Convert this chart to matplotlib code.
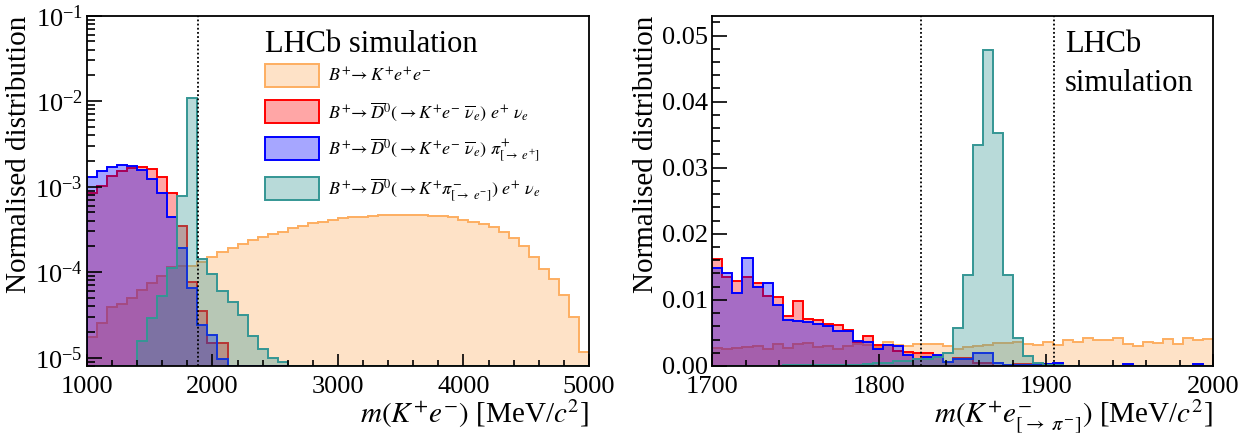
import numpy as np
import matplotlib
matplotlib.use("Agg")
import matplotlib.pyplot as plt
from matplotlib.colors import to_rgba
from matplotlib.patches import Patch
from matplotlib.ticker import MultipleLocator, LogLocator, LogFormatterMathtext, FormatStrFormatter

plt.rcParams['font.family'] = ['Liberation Serif', 'DejaVu Serif']
plt.rcParams['mathtext.fontset'] = 'stix'

# left panel: m(K+ e-) from 1000 to 5000 MeV, 50 bins
edges_l = np.linspace(1000, 5000, 51)
kee_l = [1.76e-5, 2.57e-5, 3.9e-5, 4.25e-5, 4.95e-5, 6.2e-5, 7.4e-5, 9.0e-5, 1.16e-4, 1.19e-4,
         1.19e-4, 1.33e-4, 1.52e-4, 1.74e-4, 1.91e-4, 2.12e-4, 2.38e-4, 2.56e-4, 2.77e-4, 2.98e-4,
         3.26e-4, 3.47e-4, 3.79e-4, 3.9e-4, 4.08e-4, 4.27e-4, 4.38e-4, 4.46e-4, 4.54e-4, 4.63e-4,
         4.71e-4, 4.71e-4, 4.67e-4, 4.63e-4, 4.58e-4, 4.58e-4, 4.38e-4, 4.08e-4, 3.84e-4, 3.66e-4,
         3.4e-4, 2.98e-4, 2.49e-4, 2.02e-4, 1.49e-4, 1.09e-4, 8.3e-5, 5.4e-5, 3.02e-5, 1.17e-5]
denu_l = [8.5e-4, 1.02e-3, 1.33e-3, 1.54e-3, 1.64e-3, 1.71e-3, 1.6e-3, 1.31e-3, 8.5e-4, 3.47e-4,
          7.6e-5, 3.5e-5, 1.5e-5, 1.5e-5] + [0] * 36
dpi_l = [1.31e-3, 1.54e-3, 1.71e-3, 1.79e-3, 1.75e-3, 1.57e-3, 1.22e-3, 8.5e-4, 4.45e-4, 1.9e-4,
         6.5e-5, 2.4e-5, 1.85e-5, 9.6e-6] + [0] * 36
dkpi_l = [0, 0, 0, 0, 0, 1.55e-5, 2.95e-5, 5.2e-5, 1.13e-4, 7.7e-4,
          1.1e-2, 1.42e-4, 9.5e-5, 6.0e-5, 4.5e-5, 3.15e-5, 1.78e-5, 1.27e-5, 9.8e-6, 9.0e-6] + [0] * 30

# right panel: m(K+ e-[->pi-]) from 1700 to 2000 MeV, 50 bins
edges_r = np.linspace(1700, 2000, 51)
kee_r = [0.0027, 0.0026, 0.0027, 0.0029, 0.0030, 0.0026, 0.0033, 0.0027, 0.0034, 0.0035,
         0.0028, 0.0030, 0.0025, 0.0030, 0.0033, 0.0031, 0.0028, 0.0036, 0.0031, 0.0030,
         0.0033, 0.0033, 0.0034, 0.0030, 0.0026, 0.0029, 0.0030, 0.0031, 0.0035, 0.0035,
         0.0036, 0.0034, 0.0031, 0.0037, 0.0032, 0.0039, 0.0036, 0.0042, 0.0040, 0.0040,
         0.0043, 0.0033, 0.0030, 0.0037, 0.0035, 0.0041, 0.0034, 0.0043, 0.0039, 0.0041]
denu_r = [0.0162, 0.0134, 0.0128, 0.0134, 0.0125, 0.0106, 0.0105, 0.0075, 0.0099, 0.0071,
          0.0070, 0.0063, 0.0062, 0.0054, 0.0037, 0.0045, 0.0031, 0.0031, 0.0023, 0.0021,
          0.0019, 0.0019, 0.0015, 0.0006, 0.0012, 0.0012, 0.0004, 0.0004, 0.0, 0.0,
          0.0003, 0.0003] + [0.0] * 18
dpi_r = [0.0148, 0.0141, 0.0111, 0.0163, 0.0120, 0.0125, 0.0093, 0.0070, 0.0068, 0.0067,
         0.0064, 0.0060, 0.0053, 0.0053, 0.0038, 0.0037, 0.0025, 0.0031, 0.0030, 0.0016,
         0.0011, 0.0014, 0.0016, 0.0006, 0.0010, 0.0011, 0.0020, 0.0020, 0.0004, 0.0001,
         0.0001, 0.0001, 0.0003, 0.0003, 0.0005, 0.0, 0.0, 0.0, 0.0, 0.0,
         0.0, 0.0003, 0.0, 0.0, 0.0, 0.0, 0.0, 0.0, 0.0003, 0.0]
dkpi_r = [0.0, 0.0, 0.0, 0.0, 0.0, 0.0, 0.0, 0.0001, 0.0001, 0.0001,
          0.0001, 0.0001, 0.0001, 0.0001, 0.0002, 0.0003, 0.0004, 0.0005, 0.0007, 0.0008,
          0.0010, 0.0011, 0.0013, 0.0019, 0.0057, 0.0137, 0.0335, 0.0478, 0.0352, 0.0137,
          0.0042, 0.0015, 0.0004, 0.0002, 0.0001] + [0.0] * 15

colors = ['#fdae61', '#ff0000', '#0000ff', '#349694']
labels = [r'$B^{+}\!\rightarrow K^{+}e^{+}e^{-}$',
          r'$B^{+}\!\rightarrow \overline{D}^{0}(\rightarrow K^{+}e^{-}\ \overline{\nu}_{e})\ e^{+}\ \nu_{e}$',
          r'$B^{+}\!\rightarrow \overline{D}^{0}(\rightarrow K^{+}e^{-}\ \overline{\nu}_{e})\ \pi^{+}_{[\rightarrow\ e^{+}]}$',
          r'$B^{+}\!\rightarrow \overline{D}^{0}(\rightarrow K^{+}\pi^{-}_{[\rightarrow\ e^{-}]})\ e^{+}\ \nu_{e}$']


def draw(ax, edges, series, floor):
    for vals, c in zip(series, colors):
        v = np.maximum(np.array(vals, dtype=float), floor)
        ax.stairs(v, edges, baseline=floor, fill=True, facecolor=to_rgba(c, 0.35), linewidth=0)
        ax.stairs(v, edges, baseline=floor, color=c, linewidth=1.4)


def style(ax):
    for s in ax.spines.values():
        s.set_linewidth(1.3)
    ax.tick_params(which='both', direction='in', top=False, right=False, width=1.2, labelsize=19)
    ax.tick_params(axis='y', which='major', length=11, pad=3)
    ax.tick_params(axis='y', which='minor', length=6)
    ax.tick_params(axis='x', which='major', length=8.5, pad=7)
    ax.tick_params(axis='x', which='minor', length=4.5)


dots = (0, (1, 1.3))

fig = plt.figure(figsize=(12.55, 4.42), dpi=100)
ax1 = fig.add_axes([0.0693, 0.172, 0.4, 0.7925])
ax2 = fig.add_axes([0.5677, 0.172, 0.3988, 0.7925])

# left
floor = 8e-6
draw(ax1, edges_l, [kee_l, denu_l, dpi_l, dkpi_l], floor)
ax1.set_yscale('log')
ax1.set_xlim(1000, 5000)
ax1.set_ylim(floor, 0.1)
ax1.axvline(1885, color='black', linestyle=dots, linewidth=1.3)
ax1.xaxis.set_major_locator(MultipleLocator(1000))
ax1.xaxis.set_minor_locator(MultipleLocator(200))
ax1.yaxis.set_major_locator(LogLocator(base=10, numticks=10))
ax1.yaxis.set_minor_locator(LogLocator(base=10, subs=np.arange(2, 10), numticks=20))
ax1.yaxis.set_major_formatter(LogFormatterMathtext())
style(ax1)
ax1.set_xlabel(r'$m(K^{+}e^{-})$ [MeV/$c^{2}$]', fontsize=21, loc='right', labelpad=0)
ax1.set_ylabel('Normalised distribution', fontsize=21, loc='top', labelpad=2)
ax1.text(0.355, 0.896, 'LHCb simulation', transform=ax1.transAxes, fontsize=22, va='baseline')
handles = [Patch(facecolor=to_rgba(c, 0.35), edgecolor=c, linewidth=1.4) for c in colors]
ax1.legend(handles, labels, loc='upper left', bbox_to_anchor=(0.355, 0.862), frameon=False,
           fontsize=13, handlelength=3.0, handleheight=1.55, labelspacing=0.75,
           handletextpad=0.5, borderpad=0, borderaxespad=0)

# right
draw(ax2, edges_r, [kee_r, denu_r, dpi_r, dkpi_r], 0.0)
ax2.set_xlim(1700, 2000)
ax2.set_ylim(0, 0.053)
ax2.axvline(1825, color='black', linestyle=dots, linewidth=1.3)
ax2.axvline(1905, color='black', linestyle=dots, linewidth=1.3)
ax2.xaxis.set_major_locator(MultipleLocator(100))
ax2.xaxis.set_minor_locator(MultipleLocator(20))
ax2.yaxis.set_major_locator(MultipleLocator(0.01))
ax2.yaxis.set_minor_locator(MultipleLocator(0.002))
ax2.yaxis.set_major_formatter(FormatStrFormatter('%.2f'))
style(ax2)
ax2.set_xlabel(r'$m(K^{+}e^{-}_{[\rightarrow\ \pi^{-}]})$ [MeV/$c^{2}$]', fontsize=21, loc='right', labelpad=0)
ax2.set_ylabel('Normalised distribution', fontsize=21, loc='top', labelpad=2)
ax2.text(0.704, 0.896, 'LHCb', transform=ax2.transAxes, fontsize=22, va='baseline')
ax2.text(0.704, 0.786, 'simulation', transform=ax2.transAxes, fontsize=22, va='baseline')

fig.savefig('out.png', dpi=100)
